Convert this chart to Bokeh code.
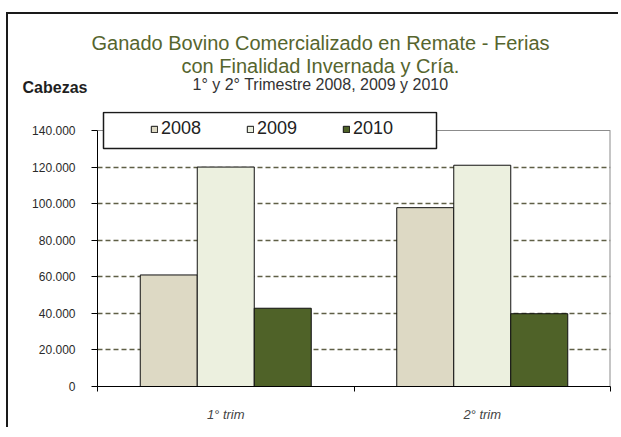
from bokeh.plotting import figure
from bokeh.models import (Range1d, FixedTicker, Title, BoxAnnotation, Legend,
                          LegendItem, ColumnDataSource)
from bokeh.embed import file_html
from bokeh.resources import INLINE

# ---------------- data ----------------
categories = ["1° trim", "2° trim"]
years = ["2008", "2009", "2010"]
values_2008 = [61000, 97800]
values_2009 = [120000, 121000]
values_2010 = [42800, 39800]
y_ticks = [0, 20000, 40000, 60000, 80000, 100000, 120000, 140000]
y_tick_labels = ["0", "20.000", "40.000", "60.000", "80.000", "100.000", "120.000", "140.000"]
colors = ["#DDD9C4", "#ECF0DF", "#4F6228"]

title_1 = "Ganado Bovino Comercializado en Remate - Ferias"
title_2 = "con Finalidad Invernada y Cría."
title_3 = "1° y 2° Trimestre 2008, 2009 y 2010"
y_title = "Cabezas"

# ---------------- layout (canvas pixels) ----------------
W, H = 612, 415
L, R, T, B = 89, 10, 97, 43
PA_H = 256                      # plot-area height in px (0 .. 140000)
FW = W - L - R
FH = H - T - B
YMAX = y_ticks[-1]
XMAX = len(categories)
YTOP = YMAX * FH / PA_H


def dx(cx):
    return (cx - L) / FW * XMAX


def dy(cy):
    return (H - B - cy) / PA_H * YMAX


FONT = "Liberation Sans"

p = figure(width=W, height=H, output_backend="svg", toolbar_location=None,
           x_range=Range1d(0, XMAX), y_range=Range1d(0, YTOP),
           min_border_left=L, min_border_right=R, min_border_top=T,
           min_border_bottom=B)
p.styles = {"margin-left": "6px", "margin-top": "12px",
            "border-left": "2px solid #1a1a1a", "border-top": "2px solid #1a1a1a"}
p.background_fill_color = "white"
p.border_fill_color = "white"
p.outline_line_color = None

# plot-area border (top and right, grey)
p.segment(x0=[0, XMAX], y0=[YMAX, 0], x1=[XMAX, XMAX], y1=[YMAX, YMAX],
          line_color="#8c8c8c", line_width=[1, 2])

bar_w = 1 / 4.5
offsets = [-bar_w, 0, bar_w]
series = [values_2008, values_2009, values_2010]
renderers = []
for vals, off, col in zip(series, offsets, colors):
    src = ColumnDataSource(dict(x=[i + 0.5 + off for i in range(len(categories))],
                                top=vals))
    r = p.vbar(x="x", top="top", bottom=0, width=bar_w, source=src,
               fill_color=col, line_color="#111111", line_width=1)
    renderers.append(r)

# grid
p.xgrid.visible = False
p.ygrid.ticker = FixedTicker(ticks=y_ticks[1:-1])
p.ygrid.grid_line_color = "#5f5f46"
p.ygrid.grid_line_width = 1.5
p.ygrid.grid_line_dash = "5 3"

# y axis
ya = p.yaxis[0]
ya.bounds = (0, YMAX)
ya.ticker = FixedTicker(ticks=y_ticks)
ya.major_label_overrides = dict(zip(y_ticks, y_tick_labels))
ya.axis_line_color = "#000000"
ya.major_tick_line_color = "#000000"
ya.major_tick_out = 6
ya.major_tick_in = 0
ya.minor_tick_line_color = None
ya.major_label_standoff = 16
ya.major_label_text_font = FONT
ya.major_label_text_font_size = "12px"
ya.major_label_text_color = "#2a2a2a"

# x axis
xa = p.xaxis[0]
centers = [i + 0.5 for i in range(len(categories))]
bounds = [i for i in range(len(categories) + 1)]
xa.ticker = FixedTicker(ticks=centers, minor_ticks=bounds)
xa.major_label_overrides = dict(zip(centers, categories))
xa.axis_line_color = "#000000"
xa.major_tick_line_color = None
xa.minor_tick_line_color = "#000000"
xa.minor_tick_out = 5
xa.minor_tick_in = 0
xa.major_label_standoff = 14
xa.major_label_text_font = FONT
xa.major_label_text_font_size = "13px"
xa.major_label_text_font_style = "italic"
xa.major_label_text_color = "#444444"

# legend box
box = BoxAnnotation(left=dx(95), right=dx(428), top=dy(98), bottom=dy(134),
                    fill_color="white", fill_alpha=1.0,
                    line_color="#1a1a1a", line_width=1.5, line_alpha=1.0)
p.add_layout(box)

legend = Legend(items=[LegendItem(label=y, renderers=[r]) for y, r in zip(years, renderers)],
                orientation="horizontal", location=(53, 247), padding=0, margin=0,
                spacing=35, label_width=50, glyph_width=8, glyph_height=8,
                label_standoff=3, border_line_color=None, background_fill_alpha=0,
                label_text_font=FONT, label_text_font_size="18px",
                label_text_color="#222222")
p.add_layout(legend, "center")

# titles (stacked above the frame, nearest first)
title_color = "#56652e"
spacer = Title(text=" ", text_font_size="1px", standoff=18)
t3 = Title(text=title_3, align="left", offset=95, standoff=-4,
           text_font=FONT, text_font_size="16px", text_font_style="normal",
           text_color="#333333")
t2 = Title(text=title_2, align="left", offset=84, standoff=-2,
           text_font=FONT, text_font_size="20px", text_font_style="normal",
           text_color=title_color)
t1 = Title(text=title_1, align="left", offset=-6, standoff=0,
           text_font=FONT, text_font_size="20px", text_font_style="normal",
           text_color=title_color)
t_cab = Title(text=y_title, align="left", offset=-75, standoff=-133,
              text_font=FONT, text_font_size="16px", text_font_style="bold",
              text_color="#1f1f1f")
for t in [spacer, t3, t2, t1, t_cab]:
    p.add_layout(t, "above")

open("out.html", "w").write(file_html(p, INLINE))
